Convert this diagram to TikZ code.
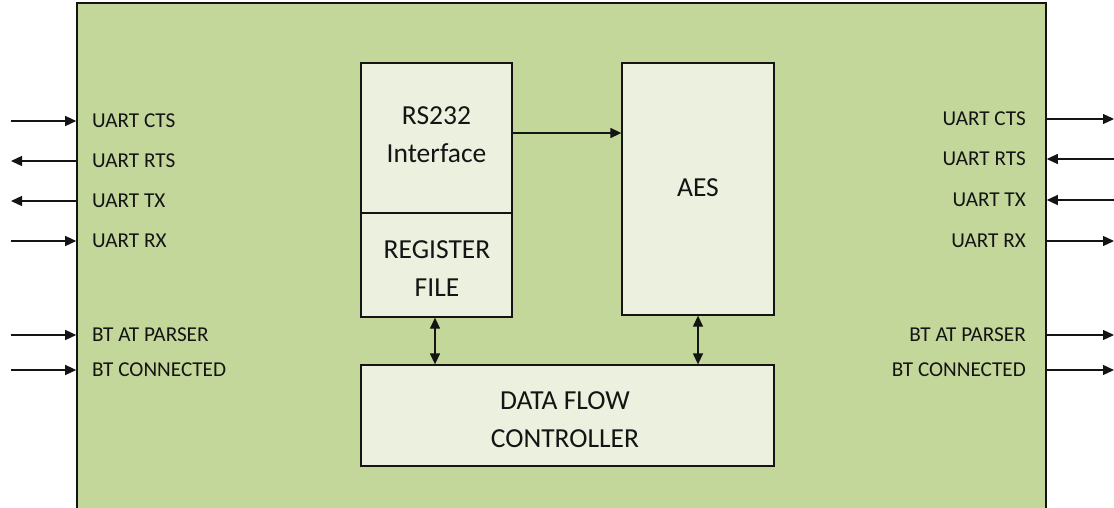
\documentclass[tikz,border=0pt]{standalone}
\usepackage{fontspec}
\setmainfont{Carlito}
\usetikzlibrary{arrows.meta}
\definecolor{chipgreen}{RGB}{196,215,155}
\definecolor{blockfill}{RGB}{235,241,222}
\definecolor{ink}{RGB}{20,20,20}
\begin{document}
\begin{tikzpicture}[x=1pt,y=-1pt,
  chip/.style={draw=ink,line width=1.6pt,fill=chipgreen,inner sep=0pt},
  block/.style={draw=ink,line width=1.3pt,fill=blockfill,inner sep=0pt},
  blocktext/.style={align=center,inner sep=0pt,font=\fontsize{27.5}{38}\selectfont,text=ink},
  sig/.style={draw=ink,line width=1.3pt,-{Triangle[length=11pt,width=10pt]}},
  bisig/.style={draw=ink,line width=1.3pt,{Triangle[length=11pt,width=10pt]}-{Triangle[length=11pt,width=10pt]}},
  pinl/.style={anchor=west,inner sep=0pt,font=\fontsize{21.2}{24}\selectfont,text=ink},
  pinr/.style={anchor=east,inner sep=0pt,font=\fontsize{21.2}{24}\selectfont,text=ink}]
\useasboundingbox (0,0) rectangle (1114,507);
\clip (0,0) rectangle (1114,507);
\fill[white] (0,0) rectangle (1114,507);

% chip outline (its lower edge runs below the page)
\node[chip,minimum width=969pt,minimum height=520pt] (chip) at (561.5,263) {};

% internal blocks
\node[block,minimum width=151pt,minimum height=150pt] (rs232) at (436.5,138) {};
\node[block,minimum width=151pt,minimum height=104pt] (reg) at (436.5,265) {};
\node[block,minimum width=152pt,minimum height=252pt] (aes) at (698,189) {};
\node[block,minimum width=413pt,minimum height=101pt] (dfc) at (567.5,415.5) {};

% block captions
\node[blocktext] (rs232txt) at (436.5,135) {RS232\\Interface};
\node[blocktext] (regtxt) at (437,269) {REGISTER\\FILE};
\node[blocktext] (aestxt) at (698,188) {AES};
\node[blocktext] (dfctxt) at (565,419.5) {DATA FLOW\\CONTROLLER};

% internal data paths
\draw[sig] ([yshift=5pt]rs232.east) -- ([yshift=5pt]rs232.east -| aes.west);
\draw[bisig] ([xshift=-1.5pt]reg.south) -- ([xshift=-1.5pt]reg.south |- dfc.north);
\draw[bisig] (aes.south) -- (aes.south |- dfc.north);

% left-hand pins
\node[pinl] (lcts) at (92,121) {UART CTS};
\node[pinl] (lrts) at (92,161) {UART RTS};
\node[pinl] (ltx)  at (92,201) {UART TX};
\node[pinl] (lrx)  at (92,241) {UART RX};
\node[pinl] (lbta) at (92,335) {BT AT PARSER};
\node[pinl] (lbtc) at (92,370) {BT CONNECTED};
\coordinate (elcts) at (11,121);
\coordinate (elrts) at (11,161);
\coordinate (eltx)  at (11,201);
\coordinate (elrx)  at (11,241);
\coordinate (elbta) at (11,335);
\coordinate (elbtc) at (11,370);
\draw[sig] (elcts) -- (elcts -| chip.west);
\draw[sig] (elrts -| chip.west) -- (elrts);
\draw[sig] (eltx -| chip.west) -- (eltx);
\draw[sig] (elrx) -- (elrx -| chip.west);
\draw[sig] (elbta) -- (elbta -| chip.west);
\draw[sig] (elbtc) -- (elbtc -| chip.west);

% right-hand pins
\node[pinr] (rcts) at (1026,119) {UART CTS};
\node[pinr] (rrts) at (1026,159) {UART RTS};
\node[pinr] (rtx)  at (1026,200) {UART TX};
\node[pinr] (rrx)  at (1026,241) {UART RX};
\node[pinr] (rbta) at (1026,335) {BT AT PARSER};
\node[pinr] (rbtc) at (1026,370) {BT CONNECTED};
\coordinate (ercts) at (1114,119);
\coordinate (errts) at (1114,159);
\coordinate (ertx)  at (1114,200);
\coordinate (errx)  at (1114,241);
\coordinate (erbta) at (1114,335);
\coordinate (erbtc) at (1114,370);
\draw[sig] (ercts -| chip.east) -- (ercts);
\draw[sig] (errts) -- (errts -| chip.east);
\draw[sig] (ertx) -- (ertx -| chip.east);
\draw[sig] (errx -| chip.east) -- (errx);
\draw[sig] (erbta -| chip.east) -- (erbta);
\draw[sig] (erbtc -| chip.east) -- (erbtc);
\end{tikzpicture}
\end{document}
